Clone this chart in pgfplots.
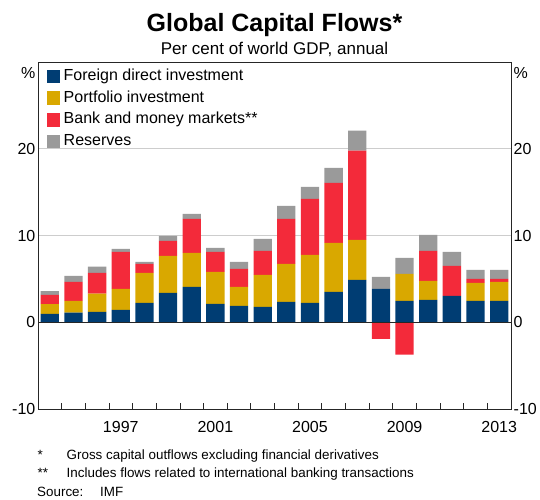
\documentclass[border=0pt]{standalone}
\usepackage{fontspec}
\setmainfont{Liberation Sans}
\usepackage{pgfplots}
\usepackage{pgfplotstable}
\pgfplotsset{compat=1.18}
\definecolor{rbanavy}{RGB}{0,61,115}
\definecolor{rbagold}{RGB}{217,168,0}
\definecolor{rbared}{RGB}{243,42,58}
\definecolor{rbagrey}{RGB}{154,154,154}
\definecolor{gridgrey}{RGB}{205,205,205}

\pgfplotstableread{
year fdi port bank res
1994 0.96 1.14 1.05 0.45
1995 1.10 1.36 2.19 0.70
1996 1.20 2.10 2.40 0.70
1997 1.42 2.43 4.25 0.36
1998 2.23 3.47 1.03 0.23
1999 3.38 4.27 1.73 0.58
2000 4.08 3.92 3.92 0.58
2001 2.12 3.68 2.30 0.48
2002 1.88 2.20 2.07 0.81
2003 1.77 3.69 2.77 1.37
2004 2.35 4.38 5.19 1.50
2005 2.23 5.54 6.46 1.37
2006 3.50 5.65 6.93 1.72
2007 4.88 4.62 10.27 2.31
2008 3.85 0.00 0.00 1.38
2009 2.46 3.12 0.00 1.84
2010 2.58 2.19 3.46 1.85
2011 3.04 0.00 3.46 1.62
2012 2.46 2.08 0.46 1.04
2013 2.46 2.19 0.35 1.04
}\flows

\pgfplotstableread{
year bankneg
2008 -1.92
2009 -3.74
}\negflows

\begin{document}
\begin{tikzpicture}[x=1pt,y=1pt]
\useasboundingbox (0pt,0pt) rectangle (540pt,499pt);
\begin{axis}[
  at={(38pt,90pt)}, anchor=south west,
  scale only axis, width=473pt, height=347pt,
  xmin=1993.5, xmax=2013.5, ymin=-10, ymax=30,
  ybar stacked, bar width=18.3pt,
  axis line style={line width=0.9pt, black!85},
  xtick={1997,2001,2005,2009,2013},
  minor xtick={1994.5,1995.5,...,2012.5},
  xtick pos=left, tick align=inside,
  major x tick style={draw=none},
  minor tick length=6pt,
  minor x tick style={line width=0.8pt, black!85},
  xticklabel style={font=\fontsize{16}{16}\selectfont, inner sep=0pt, yshift=-12pt},
  ytick={-10,0,10,20},
  ytick pos=left,
  ytick style={draw=none},
  yticklabel style={font=\fontsize{16}{16}\selectfont, inner sep=0pt, xshift=-2.5pt},
  /pgf/number format/assume math mode=true,
  xticklabel={\pgfmathprintnumber[1000 sep={}]{\tick}},
  ymajorgrids, grid style={gridgrey, line width=1pt},
  legend cell align=left,
  legend style={at={(axis description cs:0.018,0.982)}, anchor=north west,
    draw=none, fill=none, inner sep=0pt, row sep=5.7pt, column sep=3pt,
    font=\fontsize{16}{16}\selectfont,
    nodes={inner sep=0.5pt, text height=11.5pt, text depth=3.5pt}},
  legend image code/.code={\fill[#1] (0pt,-6.7pt) rectangle (13.5pt,6.7pt);},
]
\addplot[fill=rbanavy, draw=none] table[x=year, y=fdi] {\flows};
\addlegendentry{Foreign direct investment}
\addplot[fill=rbagold, draw=none] table[x=year, y=port] {\flows};
\addlegendentry{Portfolio investment}
\addplot[fill=rbared, draw=none] table[x=year, y=bank] {\flows};
\addlegendentry{Bank and money markets**}
\addplot[fill=rbagrey, draw=none] table[x=year, y=res] {\flows};
\addlegendentry{Reserves}
\end{axis}
\begin{axis}[
  at={(38pt,90pt)}, anchor=south west,
  scale only axis, width=473pt, height=347pt,
  xmin=1993.5, xmax=2013.5, ymin=-10, ymax=30,
  axis x line=none, axis y line*=right,
  axis line style={line width=0.9pt, black!85},
  ybar, bar width=18.3pt,
  ytick={-10,0,10,20},
  ytick style={draw=none},
  yticklabel style={font=\fontsize{16}{16}\selectfont, inner sep=0pt, xshift=2.5pt},
  /pgf/number format/assume math mode=true,
]
\addplot[fill=rbared, draw=none] table[x=year, y=bankneg] {\negflows};
\draw[black!85, line width=1pt] (axis cs:1993.5,0) -- (axis cs:2013.5,0);
\end{axis}
\node[anchor=east, inner sep=0pt, font=\fontsize{16}{16}\selectfont] at (35.5pt,426pt) {\%};
\node[anchor=west, inner sep=0pt, font=\fontsize{16}{16}\selectfont] at (513.5pt,426pt) {\%};
\node[anchor=base, inner sep=0pt, font=\fontsize{25}{25}\selectfont\bfseries] at (274.5pt,467.5pt) {Global Capital Flows*};
\node[anchor=base, inner sep=0pt, font=\fontsize{17}{17}\selectfont] at (274.5pt,444pt) {Per cent of world GDP, annual};
\begin{scope}[every node/.style={anchor=base west, inner sep=0pt, font=\fontsize{13.4}{13.4}\selectfont}]
\node at (37.5pt,40pt) {*};
\node at (66.5pt,40pt) {Gross capital outflows excluding financial derivatives};
\node at (37.5pt,22pt) {**};
\node at (66.5pt,22pt) {Includes flows related to international banking transactions};
\node at (37pt,3pt) {Source:};
\node at (100pt,3pt) {IMF};
\end{scope}
\end{tikzpicture}
\end{document}
